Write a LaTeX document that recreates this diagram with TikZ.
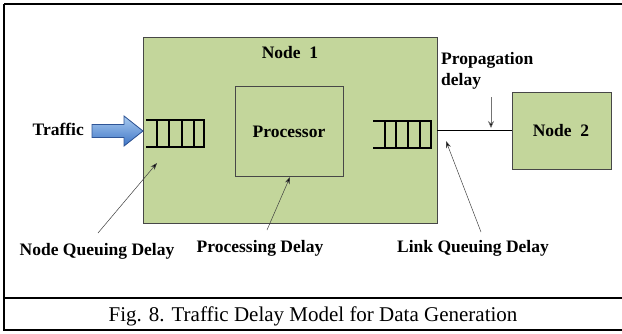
\documentclass[tikz,border=0pt]{standalone}
\usepackage{fontspec}
\setmainfont{Liberation Serif}
\usetikzlibrary{arrows.meta}
\definecolor{boxgreen}{HTML}{C3D69B}
\definecolor{boxedge}{HTML}{474747}
\definecolor{arrowlight}{HTML}{A9CBF0}
\definecolor{arrowdark}{HTML}{3E75C6}
\definecolor{arrowedge}{HTML}{2F5597}
\tikzset{
  greenbox/.style={draw=boxedge, fill=boxgreen, line width=0.9pt, inner sep=0pt},
  plainbox/.style={draw=boxedge, line width=0.9pt, inner sep=0pt},
  lbl/.style={font=\bfseries\fontsize{17.5}{21}\selectfont, inner sep=0pt},
  queue/.style={line width=1.6pt, line cap=rect},
  leader/.style={draw=black!75, line width=0.5pt, -{Stealth[length=7pt,width=5pt,fill=black]}},
  frameline/.style={line width=2pt},
}
\begin{document}
\begin{tikzpicture}[x=1pt,y=-1pt]
  \useasboundingbox (0,0) rectangle (622,333);
  \fill[white] (0,0) rectangle (622,333);

  % outer frame and caption rule
  \draw[frameline] (4,4) -- (628,4);
  \draw[frameline] (4,4) -- (4,330) -- (628,330);
  \draw[frameline] (4,298) -- (628,298);

  % node 1 with its processor
  \node[greenbox, minimum width=294pt, minimum height=186pt] (n1) at (290,130) {};
  \node[lbl] (n1t) at (290,53) {Node\ \ 1};
  \node[plainbox, minimum width=108pt, minimum height=90pt] (proc) at (289,131) {};
  \node[lbl] (proct) at (289,132) {Processor};

  % node 2
  \node[greenbox, minimum width=99pt, minimum height=77pt] (n2) at (561.5,130.5) {};
  \node[lbl] (n2t) at (561,131) {Node\ \ 2};

  % link between the nodes
  \draw[line width=0.8pt] (n1.east |- n2.west) -- (n2.west);

  % input queue
  \draw[queue] (147,120) -- (204,120) -- (204,147) -- (147,147);
  \foreach \qx in {157,169,182,194} \draw[queue] (\qx,120) -- (\qx,147);
  % output queue
  \draw[queue] (374,121) -- (431,121) -- (431,148) -- (374,148);
  \foreach \qx in {385,396,408,420} \draw[queue] (\qx,121) -- (\qx,148);

  % incoming traffic
  \node[lbl, anchor=east] (traffic) at (84,129) {Traffic};
  \fill[top color=arrowlight, bottom color=arrowdark, draw=arrowedge, line width=0.8pt, line join=miter]
    (92,124.5) -- (124,124.5) -- (124,116) -- (143,131) -- (124,146) -- (124,137.5) -- (92,137.5) -- cycle;

  % propagation delay
  \node[lbl, align=left, anchor=north west] (prop) at (441,52) {Propagation\\delay};
  \coordinate (propfrom) at (491,97);
  \coordinate (propto) at (491,128);
  \draw[draw=black!55, line width=0.6pt, -{Stealth[length=7pt,width=6pt,fill=black]}] (propfrom) -- (propto);

  % delay labels and their leaders
  \node[lbl] (nqd) at (97,251) {Node Queuing Delay};
  \node[lbl] (pd) at (260,248) {Processing Delay};
  \node[lbl] (lqd) at (473,248) {Link Queuing Delay};
  \coordinate (nqdtail) at (98,233);
  \coordinate (nqdtip) at (157,163);
  \coordinate (pdtail) at (267,230);
  \coordinate (pdtip) at (290,177);
  \coordinate (lqdtail) at (481,232);
  \coordinate (lqdtip) at (446,141);
  \draw[leader] (nqdtail) -- (nqdtip);
  \draw[leader] (pdtail) -- (pdtip);
  \draw[leader] (lqdtail) -- (lqdtip);

  % caption
  \node[font=\fontsize{21}{25}\selectfont, inner sep=0pt] (cap) at (313,316) {Fig. 8. Traffic Delay Model for Data Generation};
\end{tikzpicture}
\end{document}
